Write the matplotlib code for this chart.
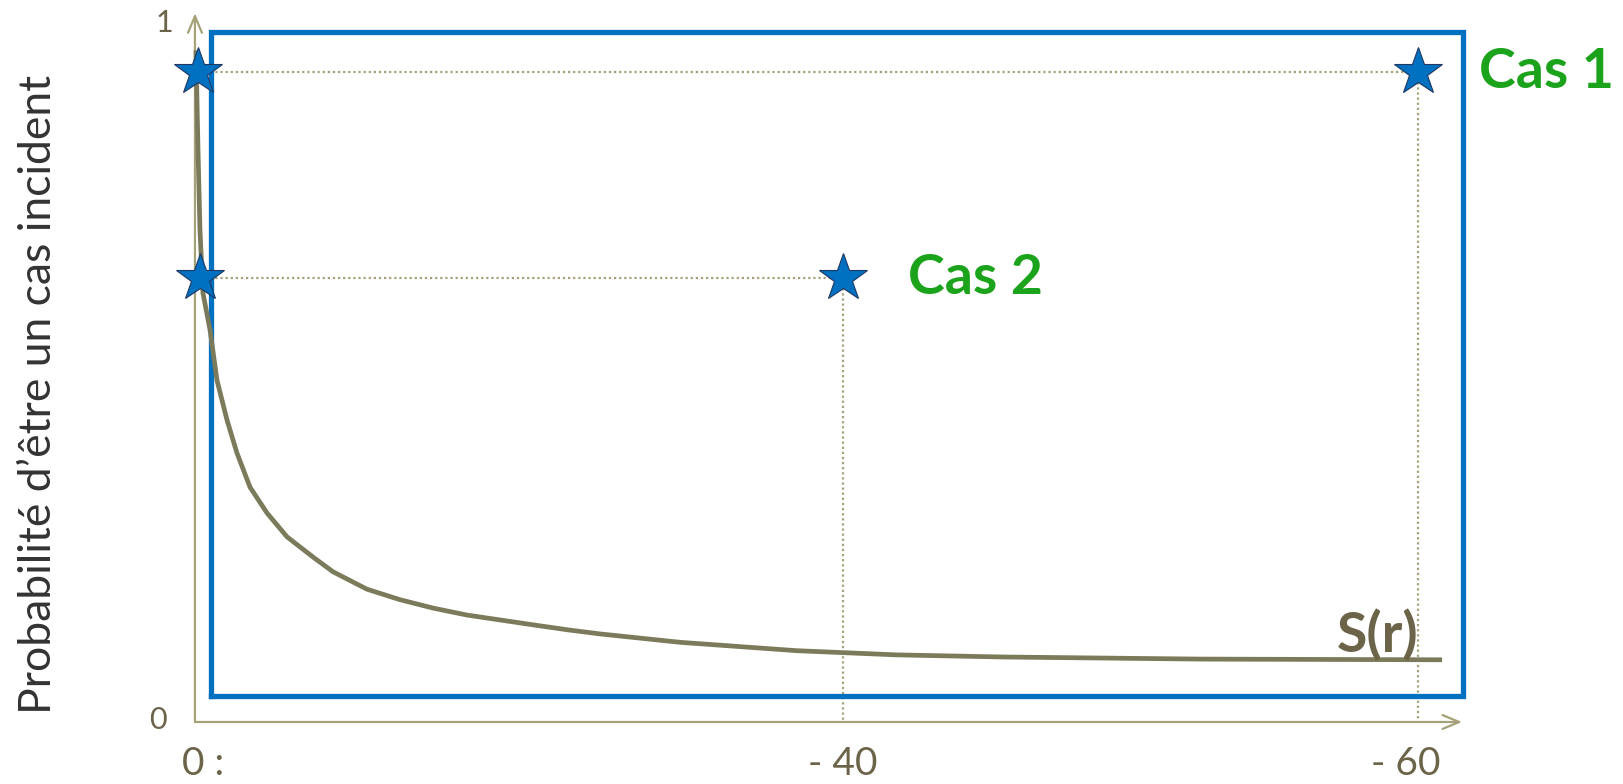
import numpy as np
import matplotlib.pyplot as plt

# courbe S(r) (x normalise : 0 -> axe, 1 -> "- 60")
r = [0.0008, 0.0025, 0.0041, 0.0065, 0.0123, 0.0180, 0.0262, 0.0343, 0.0450,
     0.0589, 0.0752, 0.0965, 0.1128, 0.1406, 0.1676, 0.1946, 0.2224, 0.2494,
     0.2764, 0.3042, 0.3312, 0.3966, 0.4922, 0.5740, 0.6607, 0.8217, 1.0196]
s_r = [0.961, 0.818, 0.704, 0.614, 0.561, 0.489, 0.432, 0.385, 0.336,
       0.299, 0.265, 0.236, 0.215, 0.190, 0.175, 0.163, 0.153, 0.146,
       0.139, 0.132, 0.126, 0.114, 0.102, 0.096, 0.093, 0.090, 0.089]

# cas
cas_x = [1.0, 0.53]
cas_y = [0.93, 0.635]
cas_labels = ["Cas 1", "Cas 2"]

x_ticks = [0.007, 0.53, 0.99]
x_labels = ["0 :", "- 40", "- 60"]

axis_col = "#A5A27A"
curve_col = "#7B7A5A"
text_col = "#6B6448"
blue = "#0070C0"
green = "#1BA31B"

fig = plt.figure(figsize=(16.24, 7.84), dpi=100)
ax = fig.add_axes([0, 0, 1, 1])
ax.set_xlim(-0.1594, 1.1684)
ax.set_ylim(-0.0887, 1.0329)
ax.axis("off")

# axes avec fleches
ax.annotate("", xy=(0, 1.014), xytext=(0, 0),
            arrowprops=dict(arrowstyle="->,head_length=1.2,head_width=0.5",
                            color=axis_col, lw=1.6, shrinkA=0, shrinkB=0))
ax.annotate("", xy=(1.036, 0), xytext=(0, 0),
            arrowprops=dict(arrowstyle="->,head_length=1.2,head_width=0.5",
                            color=axis_col, lw=1.6, shrinkA=0, shrinkB=0))

# cadre bleu
ax.plot([0.013, 1.037, 1.037, 0.013, 0.013], [0.037, 0.037, 0.987, 0.987, 0.037],
        color=blue, lw=3.8, solid_joinstyle="miter", zorder=2)

# pointilles
for cx, cy in zip(cas_x, cas_y):
    ax.plot([0.004, cx], [cy, cy], color=axis_col, lw=1.6, ls=(0, (1, 1.3)), zorder=1)
    ax.plot([cx, cx], [cy, 0], color=axis_col, lw=1.6, ls=(0, (1, 1.3)), zorder=1)

# courbe
ax.plot(r, s_r, color=curve_col, lw=3.4, solid_capstyle="butt",
        solid_joinstyle="round", zorder=3)

# etoiles
star_x = [0.0025, 0.004] + cas_x
star_y = cas_y + cas_y
ax.plot(star_x, star_y, ls="none", marker="*", ms=36, mfc=blue, mec="#1F3864",
        mew=0.8, zorder=4)

font = "Lato"
ax.text(1.105, cas_y[0], cas_labels[0], color=green, fontsize=40, fontweight="bold",
        family=font, ha="center", va="center")
ax.text(0.638, cas_y[1], cas_labels[1], color=green, fontsize=40, fontweight="bold",
        family=font, ha="center", va="center")
ax.text(0.967, 0.124, "S(r)", color=text_col, fontsize=40, fontweight="bold",
        family=font, ha="center", va="center")

for xt, lab in zip(x_ticks, x_labels):
    ax.text(xt, -0.06, lab, color=text_col, fontsize=28, family=font,
            ha="center", va="center")
ax.text(-0.03, 0.003, "0", color=text_col, fontsize=22, family=font,
        ha="center", va="center")
ax.text(-0.025, 1.0, "1", color=text_col, fontsize=22, family=font,
        ha="center", va="center")

ax.text(-0.128, 0.469, "Probabilité d’être un cas incident", color="#333333",
        fontsize=32, family=font, rotation=90, ha="center", va="center")

fig.savefig("out.png", dpi=100)
